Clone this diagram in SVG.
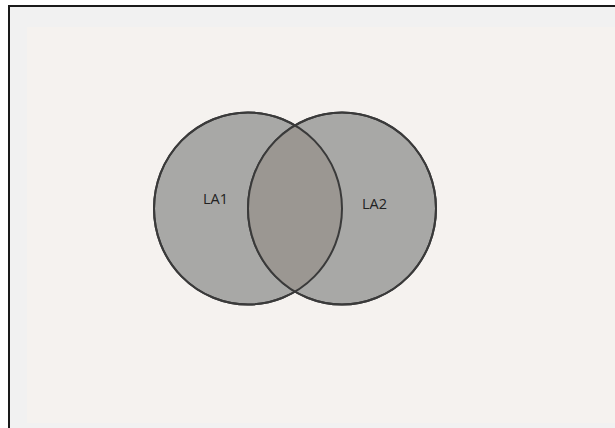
<svg xmlns="http://www.w3.org/2000/svg" width="615" height="428" viewBox="0 0 615 428">
<style>
.circ{fill:#a8a8a6;stroke:#3a3a3a;stroke-width:2}
.lens{fill:#9b9792;stroke:none}
.lbl{font-family:"Open Sans","Liberation Sans",sans-serif;font-size:14.5px;fill:#222}
</style>
<defs>
<clipPath id="c1"><ellipse cx="248" cy="208.5" rx="94" ry="96"/></clipPath>
</defs>
<rect width="615" height="428" fill="#ffffff"/>
<rect x="9" y="6" width="606" height="422" fill="#f1f1f1"/>
<rect x="27" y="27" width="588" height="396" fill="#f5f2ef"/>
<path d="M9 428 V6 H615" fill="none" stroke="#1a1a1a" stroke-width="2"/>
<g id="circle-la1"><ellipse class="circ" cx="248" cy="208.5" rx="94" ry="96"/></g>
<g id="circle-la2"><ellipse class="circ" cx="342" cy="208.5" rx="94" ry="96"/></g>
<g id="intersection">
<ellipse class="lens" cx="342" cy="208.5" rx="94" ry="96" clip-path="url(#c1)"/>
<ellipse cx="248" cy="208.5" rx="94" ry="96" fill="none" stroke="#3a3a3a" stroke-width="2"/>
<ellipse cx="342" cy="208.5" rx="94" ry="96" fill="none" stroke="#3a3a3a" stroke-width="2"/>
</g>
<g id="labels">
<text class="lbl" x="203" y="204">LA1</text>
<text class="lbl" x="362" y="209">LA2</text>
</g>
</svg>
